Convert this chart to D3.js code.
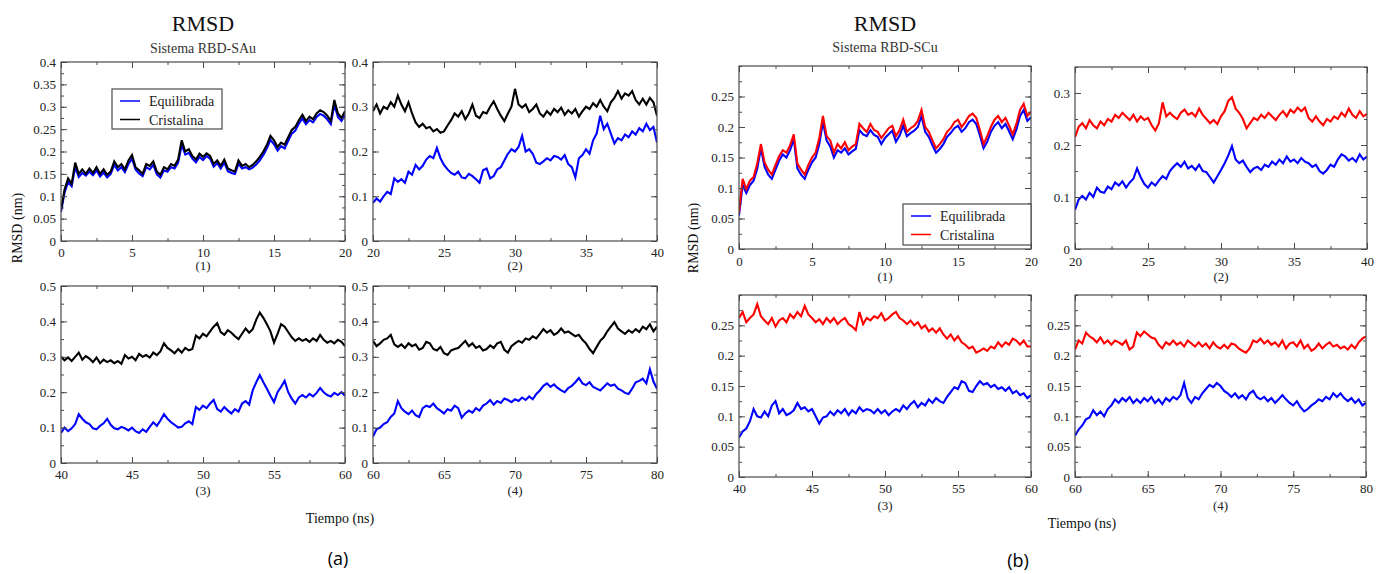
<!DOCTYPE html>
<html><head><meta charset="utf-8">
<script src="https://cdn.jsdelivr.net/npm/d3@7"></script>
<style>body{margin:0;background:#fff} text{font-family:"Liberation Serif","DejaVu Serif",serif}</style>
</head><body>
<svg id="c" width="1376" height="574"></svg>
<script>
// ---- data: RMSD (nm) sampled every 0.25 ns ----
const tStep = 0.25;
const seriesNames = ["Equilibrada", "Cristalina"];

// Sistema RBD-SAu
const eqA1 = [0.065,0.108,0.132,0.122, 0.165,0.143,0.152,0.146, 0.155,0.147,0.158,0.144, 0.153,0.142,0.150,0.170, 0.158,0.165,0.154,0.172, 0.184,0.160,0.151,0.145, 0.165,0.160,0.170,0.149, 0.142,0.158,0.155,0.165, 0.162,0.175,0.215,0.193, 0.197,0.184,0.176,0.188, 0.181,0.190,0.184,0.166, 0.174,0.162,0.175,0.156, 0.152,0.150,0.173,0.162, 0.165,0.160,0.164,0.171, 0.180,0.192,0.207,0.226, 0.216,0.202,0.212,0.207, 0.224,0.240,0.247,0.262, 0.274,0.261,0.270,0.265, 0.277,0.284,0.280,0.272, 0.261,0.305,0.277,0.268, 0.282];
const crA1 = [0.070,0.115,0.140,0.128, 0.175,0.150,0.160,0.150, 0.162,0.152,0.165,0.150, 0.160,0.148,0.155,0.178, 0.165,0.172,0.160,0.180, 0.192,0.165,0.158,0.150, 0.172,0.168,0.178,0.155, 0.148,0.165,0.160,0.172, 0.168,0.182,0.225,0.200, 0.205,0.190,0.182,0.195, 0.188,0.196,0.190,0.172, 0.180,0.168,0.182,0.162, 0.158,0.155,0.180,0.168, 0.172,0.165,0.170,0.178, 0.188,0.200,0.215,0.235, 0.225,0.210,0.220,0.215, 0.232,0.248,0.255,0.270, 0.282,0.268,0.278,0.272, 0.285,0.292,0.288,0.280, 0.268,0.315,0.285,0.275, 0.290];
const eqA2 = [0.085,0.095,0.088,0.100, 0.110,0.105,0.140,0.132, 0.138,0.130,0.155,0.148, 0.170,0.160,0.168,0.182, 0.190,0.185,0.208,0.185, 0.170,0.160,0.152,0.148, 0.155,0.142,0.140,0.150, 0.145,0.138,0.130,0.158, 0.162,0.140,0.145,0.160, 0.165,0.180,0.195,0.205, 0.200,0.210,0.235,0.200, 0.205,0.195,0.175,0.172, 0.178,0.185,0.180,0.190, 0.188,0.182,0.192,0.172, 0.165,0.142,0.185,0.192, 0.205,0.195,0.225,0.240, 0.280,0.250,0.262,0.240, 0.218,0.230,0.225,0.238, 0.232,0.245,0.238,0.252, 0.245,0.262,0.248,0.255, 0.220];
const crA2 = [0.290,0.305,0.285,0.300, 0.295,0.310,0.300,0.325, 0.305,0.290,0.310,0.285, 0.265,0.255,0.262,0.252, 0.255,0.245,0.250,0.242, 0.245,0.258,0.270,0.285, 0.278,0.290,0.272,0.285, 0.305,0.280,0.275,0.288, 0.285,0.300,0.312,0.295, 0.280,0.268,0.285,0.300, 0.340,0.305,0.298,0.305, 0.288,0.295,0.305,0.285, 0.278,0.290,0.282,0.295, 0.288,0.298,0.282,0.292, 0.285,0.295,0.278,0.290, 0.300,0.295,0.308,0.300, 0.315,0.300,0.290,0.310, 0.320,0.335,0.318,0.330, 0.325,0.335,0.315,0.305, 0.318,0.305,0.320,0.310, 0.280];
const eqA3 = [0.085,0.100,0.090,0.098, 0.110,0.138,0.125,0.115, 0.110,0.098,0.095,0.105, 0.112,0.125,0.108,0.098, 0.095,0.102,0.098,0.092, 0.100,0.090,0.085,0.095, 0.088,0.102,0.115,0.105, 0.120,0.138,0.125,0.115, 0.108,0.100,0.102,0.112, 0.118,0.110,0.158,0.150, 0.162,0.155,0.168,0.178, 0.152,0.145,0.158,0.148, 0.140,0.152,0.145,0.168, 0.175,0.165,0.205,0.228, 0.248,0.228,0.210,0.190, 0.172,0.200,0.215,0.232, 0.200,0.182,0.168,0.185, 0.192,0.185,0.195,0.188, 0.198,0.212,0.200,0.192, 0.188,0.198,0.192,0.200, 0.190];
const crA3 = [0.300,0.290,0.298,0.288, 0.300,0.312,0.292,0.302, 0.295,0.285,0.298,0.282, 0.292,0.285,0.290,0.282, 0.288,0.280,0.305,0.295, 0.300,0.290,0.308,0.300, 0.305,0.298,0.312,0.305, 0.315,0.338,0.325,0.318, 0.310,0.322,0.312,0.325, 0.318,0.322,0.360,0.352, 0.365,0.358,0.372,0.385, 0.395,0.370,0.362,0.375, 0.368,0.358,0.350,0.365, 0.380,0.368,0.378,0.405, 0.425,0.410,0.392,0.372, 0.340,0.365,0.392,0.385, 0.370,0.355,0.345,0.352, 0.345,0.350,0.342,0.352, 0.345,0.362,0.348,0.340, 0.345,0.338,0.348,0.342, 0.330];
const eqA4 = [0.075,0.095,0.100,0.110, 0.115,0.130,0.140,0.175, 0.155,0.145,0.138,0.148, 0.135,0.130,0.155,0.162, 0.158,0.168,0.155,0.148, 0.140,0.152,0.148,0.162, 0.155,0.128,0.140,0.148, 0.142,0.155,0.148,0.162, 0.168,0.178,0.165,0.175, 0.170,0.182,0.178,0.172, 0.180,0.175,0.185,0.178, 0.188,0.180,0.195,0.205, 0.218,0.225,0.215,0.222, 0.212,0.205,0.200,0.212, 0.218,0.228,0.240,0.225, 0.220,0.228,0.215,0.210, 0.205,0.215,0.225,0.218, 0.222,0.210,0.205,0.198, 0.195,0.210,0.228,0.232, 0.238,0.225,0.265,0.230, 0.210];
const crA4 = [0.345,0.330,0.338,0.348, 0.352,0.362,0.335,0.328, 0.335,0.325,0.338,0.330, 0.335,0.320,0.325,0.342, 0.338,0.322,0.318,0.328, 0.310,0.305,0.318,0.322, 0.325,0.335,0.345,0.330, 0.338,0.325,0.330,0.318, 0.322,0.332,0.325,0.338, 0.342,0.320,0.312,0.330, 0.338,0.345,0.340,0.352, 0.348,0.358,0.352,0.365, 0.378,0.368,0.375,0.362, 0.368,0.380,0.368,0.372, 0.365,0.358,0.362,0.348, 0.338,0.322,0.310,0.328, 0.345,0.355,0.372,0.385, 0.398,0.380,0.372,0.365, 0.375,0.368,0.378,0.370, 0.385,0.378,0.392,0.372, 0.385];

// Sistema RBD-SCu
const eqB1 = [0.055,0.105,0.092,0.105, 0.112,0.132,0.165,0.135, 0.122,0.115,0.130,0.145, 0.155,0.150,0.162,0.180, 0.132,0.122,0.115,0.130, 0.142,0.150,0.172,0.208, 0.178,0.168,0.150,0.162, 0.158,0.165,0.155,0.160, 0.164,0.195,0.188,0.185, 0.195,0.187,0.184,0.172, 0.182,0.188,0.194,0.176, 0.186,0.202,0.185,0.190, 0.194,0.200,0.218,0.192, 0.184,0.170,0.158,0.164, 0.172,0.184,0.190,0.198, 0.202,0.192,0.198,0.208, 0.212,0.205,0.186,0.165, 0.176,0.192,0.202,0.208, 0.198,0.205,0.193,0.180, 0.196,0.218,0.228,0.210, 0.216];
const crB1 = [0.060,0.115,0.098,0.112, 0.118,0.140,0.172,0.142, 0.130,0.122,0.138,0.152, 0.162,0.158,0.170,0.188, 0.140,0.130,0.122,0.138, 0.150,0.158,0.182,0.218, 0.185,0.178,0.158,0.172, 0.165,0.175,0.162,0.168, 0.172,0.205,0.198,0.192, 0.205,0.195,0.192,0.182, 0.190,0.198,0.202,0.185, 0.195,0.212,0.192,0.198, 0.202,0.210,0.228,0.200, 0.192,0.178,0.165,0.172, 0.180,0.192,0.198,0.208, 0.212,0.200,0.208,0.218, 0.222,0.215,0.195,0.172, 0.185,0.200,0.212,0.218, 0.208,0.215,0.202,0.188, 0.205,0.228,0.238,0.218, 0.225];
const eqB2 = [0.075,0.095,0.102,0.095, 0.108,0.100,0.118,0.110, 0.108,0.120,0.115,0.128, 0.122,0.130,0.118,0.128, 0.135,0.155,0.138,0.125, 0.118,0.128,0.122,0.132, 0.140,0.135,0.150,0.158, 0.165,0.158,0.168,0.155, 0.160,0.152,0.162,0.150, 0.148,0.138,0.128,0.140, 0.152,0.165,0.180,0.198, 0.172,0.165,0.170,0.158, 0.148,0.155,0.158,0.152, 0.162,0.158,0.168,0.162, 0.172,0.165,0.178,0.168, 0.172,0.165,0.175,0.168, 0.165,0.158,0.162,0.150, 0.145,0.152,0.162,0.158, 0.172,0.182,0.178,0.170, 0.175,0.168,0.182,0.172, 0.178];
const crB2 = [0.215,0.235,0.242,0.232, 0.248,0.238,0.232,0.245, 0.238,0.250,0.245,0.258, 0.252,0.262,0.255,0.248, 0.258,0.245,0.255,0.248, 0.252,0.238,0.228,0.242, 0.282,0.255,0.262,0.255, 0.250,0.262,0.268,0.258, 0.262,0.255,0.270,0.258, 0.250,0.242,0.248,0.240, 0.255,0.265,0.285,0.292, 0.270,0.262,0.250,0.232, 0.242,0.252,0.248,0.258, 0.252,0.262,0.255,0.248, 0.258,0.265,0.255,0.268, 0.262,0.272,0.265,0.272, 0.252,0.245,0.255,0.245, 0.238,0.250,0.245,0.255, 0.250,0.262,0.255,0.270, 0.258,0.252,0.265,0.255, 0.260];
const eqB3 = [0.065,0.075,0.080,0.092, 0.112,0.100,0.098,0.108, 0.100,0.118,0.125,0.105, 0.112,0.102,0.105,0.110, 0.122,0.112,0.115,0.108, 0.112,0.100,0.088,0.098, 0.100,0.108,0.102,0.110, 0.105,0.112,0.102,0.110, 0.105,0.115,0.108,0.112, 0.110,0.105,0.112,0.105, 0.110,0.102,0.108,0.112, 0.108,0.118,0.112,0.120, 0.125,0.115,0.122,0.118, 0.128,0.122,0.130,0.125, 0.122,0.132,0.140,0.148, 0.145,0.158,0.155,0.142, 0.140,0.150,0.158,0.152, 0.155,0.148,0.152,0.145, 0.148,0.142,0.148,0.138, 0.142,0.135,0.138,0.130, 0.135];
const crB3 = [0.262,0.272,0.255,0.262, 0.268,0.285,0.265,0.258, 0.252,0.262,0.248,0.258, 0.262,0.255,0.268,0.262, 0.272,0.265,0.282,0.268, 0.262,0.255,0.260,0.252, 0.262,0.255,0.262,0.252, 0.258,0.262,0.252,0.248, 0.242,0.272,0.252,0.262, 0.258,0.265,0.262,0.270, 0.258,0.262,0.268,0.272, 0.262,0.258,0.252,0.258, 0.250,0.255,0.245,0.250, 0.240,0.245,0.238,0.245, 0.235,0.228,0.235,0.225, 0.232,0.222,0.218,0.212, 0.215,0.205,0.208,0.212, 0.208,0.215,0.212,0.222, 0.215,0.222,0.218,0.228, 0.225,0.218,0.225,0.215, 0.215];
const eqB4 = [0.068,0.078,0.085,0.095, 0.098,0.110,0.102,0.108, 0.100,0.112,0.118,0.128, 0.122,0.130,0.125,0.132, 0.122,0.128,0.122,0.130, 0.125,0.132,0.122,0.128, 0.120,0.130,0.125,0.132, 0.128,0.135,0.155,0.130, 0.122,0.132,0.128,0.138, 0.145,0.152,0.148,0.155, 0.150,0.142,0.138,0.132, 0.138,0.130,0.135,0.128, 0.138,0.142,0.132,0.128, 0.132,0.125,0.130,0.122, 0.128,0.135,0.128,0.122, 0.118,0.125,0.115,0.108, 0.112,0.118,0.122,0.128, 0.125,0.132,0.128,0.138, 0.132,0.138,0.130,0.125, 0.130,0.122,0.128,0.118, 0.122];
const crB4 = [0.210,0.225,0.220,0.238, 0.232,0.228,0.222,0.230, 0.220,0.225,0.218,0.225, 0.222,0.218,0.225,0.210, 0.215,0.238,0.232,0.240, 0.235,0.230,0.228,0.218, 0.212,0.222,0.218,0.225, 0.218,0.222,0.215,0.225, 0.220,0.215,0.222,0.215, 0.220,0.212,0.222,0.215, 0.212,0.218,0.212,0.220, 0.218,0.212,0.208,0.205, 0.212,0.225,0.222,0.228, 0.220,0.225,0.218,0.222, 0.215,0.225,0.212,0.220, 0.222,0.215,0.225,0.212, 0.218,0.208,0.212,0.220, 0.212,0.218,0.222,0.215, 0.218,0.212,0.215,0.210, 0.218,0.212,0.222,0.228, 0.232];

// tick labels
const xTicks1 = [0, 5, 10, 15, 20];
const xTicks2 = [20, 25, 30, 35, 40];
const xTicks3 = [40, 45, 50, 55, 60];
const xTicks4 = [60, 65, 70, 75, 80];
const yTicksA1 = [0, 0.05, 0.1, 0.15, 0.2, 0.25, 0.3, 0.35, 0.4];
const yTicksA2 = [0, 0.1, 0.2, 0.3, 0.4];
const yTicksA34 = [0, 0.1, 0.2, 0.3, 0.4, 0.5];
const yTicksB = [0, 0.05, 0.1, 0.15, 0.2, 0.25];
const yTicksB2 = [0, 0.1, 0.2, 0.3];

// ---- drawing ----
const BLUE = "#0000ff", BLACK = "#000000", RED = "#ff0000";
const frameColor = "#4a4a4a";
const serif = '"Liberation Serif", "DejaVu Serif", serif';
const sans = '"Open Sans", "DejaVu Sans", sans-serif';
const svg = d3.select("#c");
const fmt = d => d === 0 ? "0" : String(+d.toFixed(3));

const panels = [
  {id:"a1", l:61, r:345, t:62, b:241, xd:[0,20], ymax:0.4, yt:yTicksA1, ym:0.025, xt:xTicks1, pad:7, sub:"(1)", subY:270,
   series:[[eqA1,BLUE],[crA1,BLACK]]},
  {id:"a2", l:373, r:657, t:62, b:241, xd:[20,40], ymax:0.4, yt:yTicksA2, ym:0.05, xt:xTicks2, pad:7, sub:"(2)", subY:270,
   series:[[crA2,BLACK],[eqA2,BLUE]]},
  {id:"a3", l:61, r:345, t:286, b:463, xd:[40,60], ymax:0.5, yt:yTicksA34, ym:0.05, xt:xTicks3, pad:7, sub:"(3)", subY:495,
   series:[[crA3,BLACK],[eqA3,BLUE]]},
  {id:"a4", l:373, r:657, t:286, b:463, xd:[60,80], ymax:0.5, yt:yTicksA34, ym:0.05, xt:xTicks4, pad:7, sub:"(4)", subY:495,
   series:[[crA4,BLACK],[eqA4,BLUE]]},
  {id:"b1", l:739, r:1031, t:66, b:249, xd:[0,20], ymax:0.3, yt:yTicksB, ym:0.025, xt:xTicks1, pad:8, sub:"(1)", subY:281,
   series:[[eqB1,BLUE],[crB1,RED]]},
  {id:"b2", l:1075, r:1367, t:67, b:249, xd:[20,40], ymax:0.35, yt:yTicksB2, ym:0.05, xt:xTicks2, pad:8, sub:"(2)", subY:281,
   series:[[crB2,RED],[eqB2,BLUE]]},
  {id:"b3", l:739, r:1031, t:295, b:477, xd:[40,60], ymax:0.3, yt:yTicksB, ym:0.025, xt:xTicks3, pad:7, sub:"(3)", subY:510,
   series:[[crB3,RED],[eqB3,BLUE]]},
  {id:"b4", l:1075, r:1366, t:295, b:477, xd:[60,80], ymax:0.3, yt:yTicksB, ym:0.025, xt:xTicks4, pad:7, sub:"(4)", subY:510,
   series:[[crB4,RED],[eqB4,BLUE]]}
];

function tickAxis(g, axisFn, scale, tr, values, size, labels, pad){
  const a = axisFn(scale).tickValues(values).tickSize(-size).tickPadding(pad);
  a.tickFormat(labels ? fmt : "");
  const ag = g.append("g").attr("transform", tr).call(a);
  ag.attr("font-family", null).attr("font-size", null);
  ag.select(".domain").remove();
  ag.selectAll("line").attr("stroke", frameColor).attr("stroke-width", 1);
  ag.selectAll("text").style("font-family", serif).style("font-size", "13px").attr("fill", "#222");
}

panels.forEach(p => {
  const x = d3.scaleLinear().domain(p.xd).range([p.l, p.r]);
  const y = d3.scaleLinear().domain([0, p.ymax]).range([p.b, p.t]);
  const g = svg.append("g");
  svg.append("clipPath").attr("id", "clip" + p.id).append("rect")
    .attr("x", p.l).attr("y", p.t).attr("width", p.r - p.l).attr("height", p.b - p.t);
  const lg = g.append("g").attr("clip-path", `url(#clip${p.id})`);
  const line = d3.line().x((d, i) => x(p.xd[0] + i * tStep)).y(d => y(d));
  p.series.forEach(([vals, col]) => {
    lg.append("path").datum(vals).attr("fill", "none").attr("stroke", col)
      .attr("stroke-width", 2.1).attr("stroke-linejoin", "miter").attr("d", line);
  });
  const xMinor = d3.range(p.xd[0], p.xd[1] + 1e-6, 2.5);
  const yMinor = d3.range(0, p.ymax + 1e-6, p.ym);
  tickAxis(g, d3.axisBottom, x, `translate(0,${p.b})`, xMinor, 3, false, 0);
  tickAxis(g, d3.axisTop, x, `translate(0,${p.t})`, xMinor, 3, false, 0);
  tickAxis(g, d3.axisLeft, y, `translate(${p.l},0)`, yMinor, 3, false, 0);
  tickAxis(g, d3.axisRight, y, `translate(${p.r},0)`, yMinor, 3, false, 0);
  tickAxis(g, d3.axisBottom, x, `translate(0,${p.b})`, p.xt, 6, true, p.pad);
  tickAxis(g, d3.axisTop, x, `translate(0,${p.t})`, p.xt, 6, false, 0);
  tickAxis(g, d3.axisLeft, y, `translate(${p.l},0)`, p.yt, 6, true, 5);
  tickAxis(g, d3.axisRight, y, `translate(${p.r},0)`, p.yt, 6, false, 0);
  g.append("rect").attr("x", p.l).attr("y", p.t).attr("width", p.r - p.l).attr("height", p.b - p.t)
    .attr("fill", "none").attr("stroke", frameColor).attr("stroke-width", 1.2);
  g.append("text").attr("x", (p.l + p.r) / 2).attr("y", p.subY).attr("text-anchor", "middle")
    .style("font-family", serif).style("font-size", "13px").attr("fill", "#222").text(p.sub);
});

function txt(x, y, s, size, opts = {}) {
  const t = svg.append("text").attr("x", x).attr("y", y).attr("text-anchor", opts.anchor || "middle")
    .style("font-family", opts.family || serif).style("font-size", size + "px").attr("fill", opts.fill || "#111").text(s);
  if (opts.rot) t.attr("transform", `rotate(-90,${x},${y})`);
  return t;
}

txt(203, 31, "RMSD", 22);
txt(203, 53, "Sistema RBD-SAu", 14, {fill:"#333"});
txt(885, 31, "RMSD", 22);
txt(885, 52, "Sistema RBD-SCu", 14, {fill:"#333"});
txt(22, 228, "RMSD (nm)", 14, {rot:true});
txt(698, 238, "RMSD (nm)", 14, {rot:true});
txt(340, 523, "Tiempo (ns)", 14);
txt(1082, 528, "Tiempo (ns)", 14);
txt(338, 565, "(a)", 18, {family: sans, fill:"#000"});
txt(1018, 567, "(b)", 18, {family: sans, fill:"#000"});

function legend(x0, y0, w, h, rows, cols) {
  const g = svg.append("g");
  g.append("rect").attr("x", x0).attr("y", y0).attr("width", w).attr("height", h)
    .attr("fill", "#fff").attr("stroke", frameColor).attr("stroke-width", 1.2);
  rows.forEach((name, i) => {
    const yy = y0 + 12 + i * 18.5;
    g.append("line").attr("x1", x0 + 8).attr("x2", x0 + 28).attr("y1", yy).attr("y2", yy)
      .attr("stroke", cols[i]).attr("stroke-width", 1.5);
    g.append("text").attr("x", x0 + 37).attr("y", yy + 5).style("font-family", serif)
      .style("font-size", "14px").attr("fill", "#222").text(name);
  });
}
legend(112, 89, 110, 40, seriesNames, [BLUE, BLACK]);
legend(903, 204, 128, 41, seriesNames, [BLUE, RED]);
</script>
</body></html>
